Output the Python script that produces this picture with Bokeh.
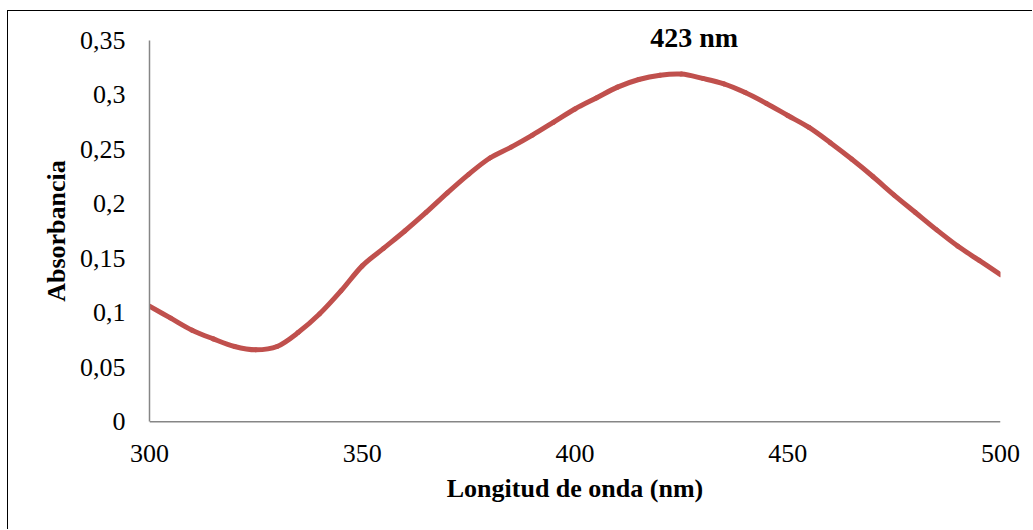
from bokeh.plotting import figure
from bokeh.models import FixedTicker, Label, ColumnDataSource, Span
from bokeh.embed import file_html
from bokeh.resources import INLINE

wavelength = [300, 305, 310, 315, 320, 325, 330, 335, 340, 345, 350, 355, 360, 365, 370,
              375, 380, 385, 390, 395, 400, 405, 410, 415, 420, 425, 430, 435, 440, 445,
              450, 455, 460, 465, 470, 475, 480, 485, 490, 495, 500]
absorbance = [0.106, 0.095, 0.084, 0.076, 0.069, 0.066, 0.069, 0.082, 0.099, 0.120, 0.143,
              0.159, 0.175, 0.192, 0.210, 0.227, 0.242, 0.252, 0.263, 0.275, 0.287, 0.297,
              0.307, 0.314, 0.318, 0.319, 0.315, 0.310, 0.302, 0.292, 0.281, 0.270, 0.256,
              0.241, 0.225, 0.208, 0.192, 0.176, 0.161, 0.148, 0.135]
x_ticks = [300, 350, 400, 450, 500]
y_ticks = [0, 0.05, 0.1, 0.15, 0.2, 0.25, 0.3, 0.35]
y_tick_labels = ["0", "0,05", "0,1", "0,15", "0,2", "0,25", "0,3", "0,35"]
peak_label = "423 nm"
peak_x = 428
peak_y = 0.353

FONT = "Liberation Serif"
LINE_COLOR = "#C0504D"
AXIS_COLOR = "#868686"
PAD = 0.02  # extra room so the peak label is not clipped

# smoothed-line rendering: Bezier segments through the measured points
n = len(wavelength)
x0, y0, x1, y1, cx0, cy0, cx1, cy1 = [], [], [], [], [], [], [], []
for i in range(n - 1):
    xp, yp = (wavelength[i - 1], absorbance[i - 1]) if i > 0 else (wavelength[i], absorbance[i])
    xa, ya = wavelength[i], absorbance[i]
    xb, yb = wavelength[i + 1], absorbance[i + 1]
    xn, yn = (wavelength[i + 2], absorbance[i + 2]) if i + 2 < n else (xb, yb)
    x0.append(xa); y0.append(ya); x1.append(xb); y1.append(yb)
    cx0.append(xa + (xb - xp) / 6.0); cy0.append(ya + (yb - yp) / 6.0)
    cx1.append(xb - (xn - xa) / 6.0); cy1.append(yb - (yn - ya) / 6.0)
src = ColumnDataSource(dict(x0=x0, y0=y0, x1=x1, y1=y1, cx0=cx0, cy0=cy0, cx1=cx1, cy1=cy1))

p = figure(width=1025, height=519, output_backend="svg", toolbar_location=None,
           x_range=(300, 500), y_range=(y_ticks[0] - PAD, y_ticks[-1] + PAD),
           min_border_left=141, min_border_right=33, min_border_top=7, min_border_bottom=87,
           styles={"margin-left": "7px", "margin-top": "10px",
                   "border-left": "1px solid black", "border-top": "1px solid black"})
p.outline_line_color = None
p.xgrid.visible = False
p.ygrid.visible = False

# x axis baseline at zero
p.add_layout(Span(location=0, dimension="width", line_color=AXIS_COLOR, line_width=1.5))

p.bezier(x0="x0", y0="y0", x1="x1", y1="y1", cx0="cx0", cy0="cy0", cx1="cx1", cy1="cy1",
         source=src, line_color=LINE_COLOR, line_width=5, line_cap="round")

for axes in (p.xaxis, p.yaxis):
    axes.axis_line_color = AXIS_COLOR
    axes.axis_line_width = 1.5
    axes.major_tick_line_color = None
    axes.minor_tick_line_color = None
    axes.major_tick_out = 0
    axes.major_tick_in = 0
    axes.major_label_text_font = FONT
    axes.major_label_text_font_size = "26px"
    axes.major_label_text_color = "black"
    axes.axis_label_text_font = FONT
    axes.axis_label_text_font_size = "26px"
    axes.axis_label_text_font_style = "bold"
    axes.axis_label_text_color = "black"

p.xaxis.axis_line_color = None
p.yaxis.bounds = (y_ticks[0], y_ticks[-1])
p.xaxis.ticker = FixedTicker(ticks=x_ticks)
p.yaxis.ticker = FixedTicker(ticks=y_ticks)
p.yaxis.major_label_overrides = {t: l for t, l in zip(y_ticks, y_tick_labels)}
p.xaxis.major_label_overrides = {t: str(t) for t in x_ticks}
p.xaxis.axis_label = "Longitud de onda (nm)"
p.yaxis.axis_label = "Absorbancia"
p.xaxis.major_label_standoff = 1
p.yaxis.major_label_standoff = 24
p.xaxis.axis_label_standoff = 9
p.yaxis.axis_label_standoff = 6

p.add_layout(Label(x=peak_x, y=peak_y, text=peak_label, text_font=FONT,
                   text_font_size="28px", text_font_style="bold",
                   text_align="center", text_baseline="middle", text_color="black"))

open("out.html", "w").write(file_html(p, INLINE))
